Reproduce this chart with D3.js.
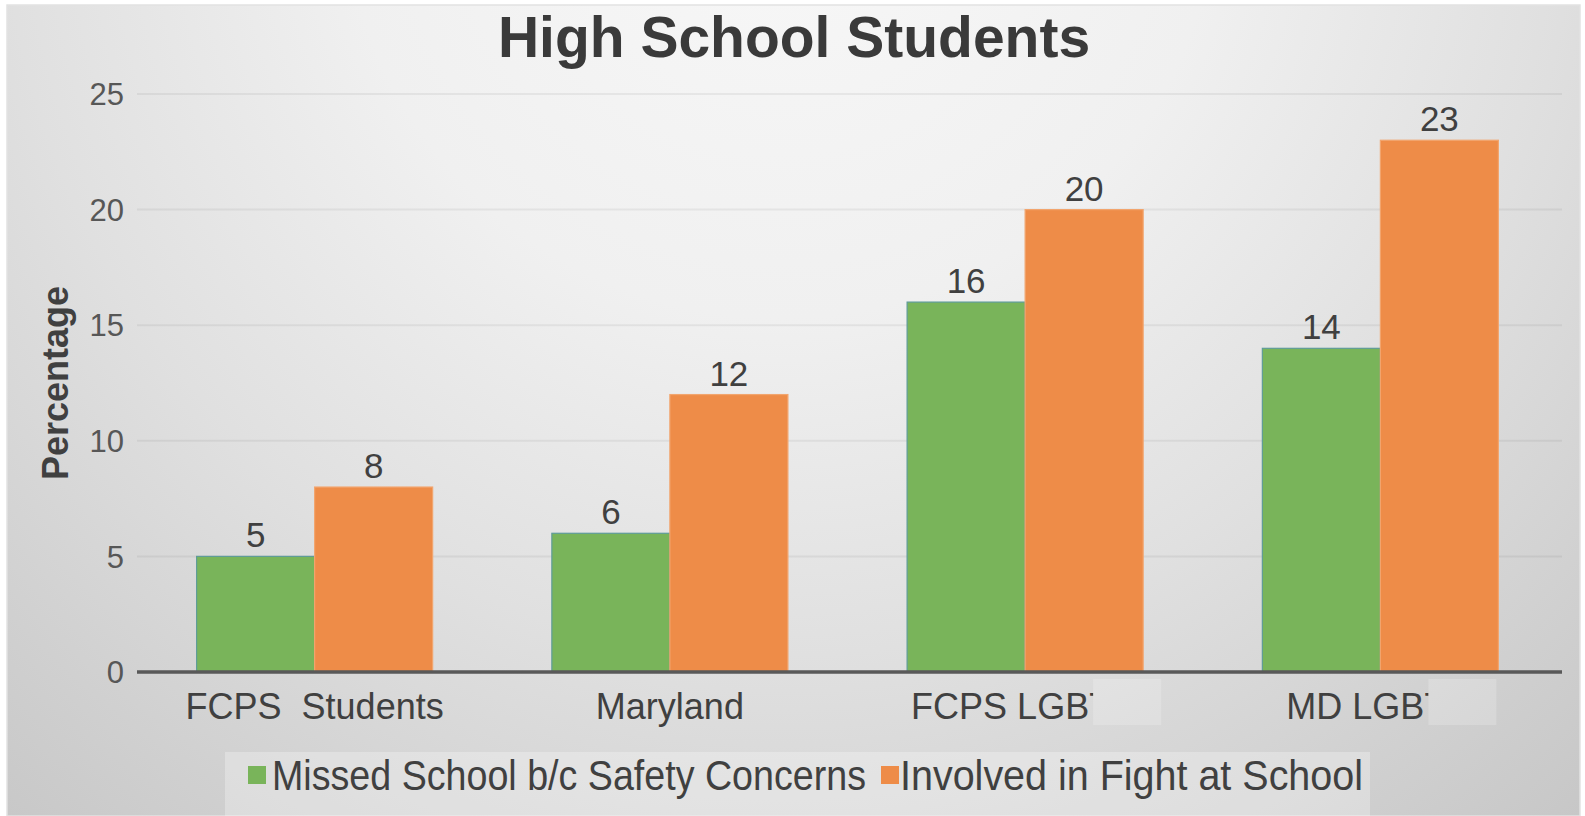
<!DOCTYPE html>
<html>
<head>
<meta charset="utf-8">
<script src="https://cdn.jsdelivr.net/npm/d3@7"></script>
<style>
  html, body { margin: 0; padding: 0; background: #ffffff; }
  svg { display: block; font-family: "Liberation Sans", Arial, sans-serif; }
</style>
</head>
<body>
<svg id="chart" width="1585" height="816"></svg>
<script>
// ---- data ----
const title = "High School Students";
const yTitle = "Percentage";
const categories = ["FCPS  Students", "Maryland", "FCPS LGBTQ", "MD LGBTQ"];
const seriesNames = ["Missed School b/c Safety Concerns", "Involved in Fight at School"];
const missedSchool = [5, 6, 16, 14];
const involvedFight = [8, 12, 20, 23];
const yTicks = [0, 5, 10, 15, 20, 25];
const seriesColors = ["#79b45a", "#ee8c48"];
const maskedLabels = ["FCPS LGBTQ", "MD LGBTQ"]; // "TQ" covered in the original picture

const values = [missedSchool, involvedFight];

const svg = d3.select("#chart");

// background
const defs = svg.append("defs");
const grad = defs.append("radialGradient")
  .attr("id", "bg").attr("gradientUnits", "userSpaceOnUse")
  .attr("cx", 780).attr("cy", -120).attr("r", 1250);
[[0, "#f8f8f8"], [0.35, "#f0f0f0"], [0.62, "#e0e0e0"], [0.85, "#d0d0d0"], [1, "#c6c6c6"]]
  .forEach(([o, c]) => grad.append("stop").attr("offset", o).attr("stop-color", c));

svg.append("rect").attr("x", 7).attr("y", 5).attr("width", 1573).attr("height", 811)
  .attr("fill", "url(#bg)").attr("stroke", "#e2e2e2").attr("stroke-width", 1.5);

// scales
const y = d3.scaleLinear().domain([0, 25]).range([672, 94]);
const x0 = d3.scaleBand().domain(categories).range([137, 1558]).paddingInner(0).paddingOuter(0);
const x1 = d3.scaleBand().domain(seriesNames).range([0, x0.bandwidth()]).paddingInner(0).paddingOuter(0.505);

// gridlines
svg.append("g").selectAll("line").data(yTicks.filter(d => d > 0)).join("line")
  .attr("x1", 137).attr("x2", 1562)
  .attr("y1", d => y(d)).attr("y2", d => y(d))
  .attr("stroke", "rgba(0,0,0,0.055)").attr("stroke-width", 2);

// y tick labels
svg.append("g").selectAll("text").data(yTicks).join("text")
  .attr("x", 124).attr("y", d => y(d)).attr("dy", "0.36em")
  .attr("text-anchor", "end").attr("font-size", 31).attr("fill", "#575757")
  .text(d => d);

// bars
const groups = svg.append("g").selectAll("g").data(categories).join("g")
  .attr("transform", d => `translate(${x0(d)},0)`);

groups.selectAll("rect").data((c, i) => seriesNames.map((s, j) => ({ s, j, v: values[j][i] })))
  .join("rect")
  .attr("x", d => x1(d.s)).attr("width", x1.bandwidth())
  .attr("y", d => y(d.v)).attr("height", d => y(0) - y(d.v))
  .attr("fill", d => seriesColors[d.j])
  .attr("stroke", d => d.j === 0 ? "#5f9c98" : "#f2a56e").attr("stroke-width", 1.2);

// value labels
groups.selectAll("text.val").data((c, i) => seriesNames.map((s, j) => ({ s, j, v: values[j][i] })))
  .join("text").attr("class", "val")
  .attr("x", d => x1(d.s) + x1.bandwidth() / 2).attr("y", d => y(d.v) - 9)
  .attr("text-anchor", "middle").attr("font-size", 35).attr("fill", "#404040")
  .text(d => d.v);

// x axis line
svg.append("line").attr("x1", 137).attr("x2", 1562).attr("y1", y(0)).attr("y2", y(0))
  .attr("stroke", "#595959").attr("stroke-width", 3.5);

// category labels
const catLabels = svg.append("g").selectAll("text").data(categories).join("text")
  .attr("x", d => x0(d) + x0.bandwidth() / 2).attr("y", 719)
  .attr("text-anchor", "middle").attr("font-size", 36).attr("fill", "#404040")
  .attr("xml:space", "preserve").style("white-space", "pre")
  .text(d => d);

// cover boxes over the end of the LGBTQ labels (as in the picture)
catLabels.each(function (d, i) {
  if (!maskedLabels.includes(d)) return;
  const idx = d.indexOf("TQ");
  const start = this.getStartPositionOfChar(idx).x + 4;
  const bb = this.getBBox();
  const id = "cut" + i;
  defs.append("clipPath").attr("id", id)
    .append("rect").attr("x", 0).attr("y", 0).attr("width", start).attr("height", 816);
  d3.select(this).attr("clip-path", `url(#${id})`);
  svg.append("rect").attr("x", start).attr("y", 679)
    .attr("width", bb.x + bb.width + 22 - start).attr("height", 46)
    .attr("fill", "#ffffff").attr("fill-opacity", 0.2);
});

// y title
svg.append("text").attr("transform", "translate(68,383) rotate(-90)")
  .attr("text-anchor", "middle").attr("font-size", 36).attr("font-weight", "bold")
  .attr("fill", "#404040").text(yTitle);

// title
svg.append("text").attr("x", 794).attr("y", 57).attr("text-anchor", "middle")
  .attr("font-size", 57).attr("font-weight", "bold").attr("fill", "#3a3a3a").text(title);

// legend
svg.append("rect").attr("x", 225).attr("y", 752).attr("width", 1145).attr("height", 64)
  .attr("fill", "#ffffff").attr("fill-opacity", 0.28);
const legendX = [248, 881];
const legendW = [594, 463];
const leg = svg.append("g").selectAll("g").data(seriesNames).join("g")
  .attr("transform", (d, i) => `translate(${legendX[i]},0)`);
leg.append("rect").attr("x", 0).attr("y", 766).attr("width", 18).attr("height", 18)
  .attr("fill", (d, i) => seriesColors[i]);
leg.append("text")
  .attr("transform", (d, i) => `translate(${i === 0 ? 24 : 19},790) scale(1,1.12)`)
  .attr("font-size", 37.5).attr("fill", "#404040")
  .attr("textLength", (d, i) => legendW[i]).attr("lengthAdjust", "spacingAndGlyphs")
  .text(d => d);
</script>
</body>
</html>
